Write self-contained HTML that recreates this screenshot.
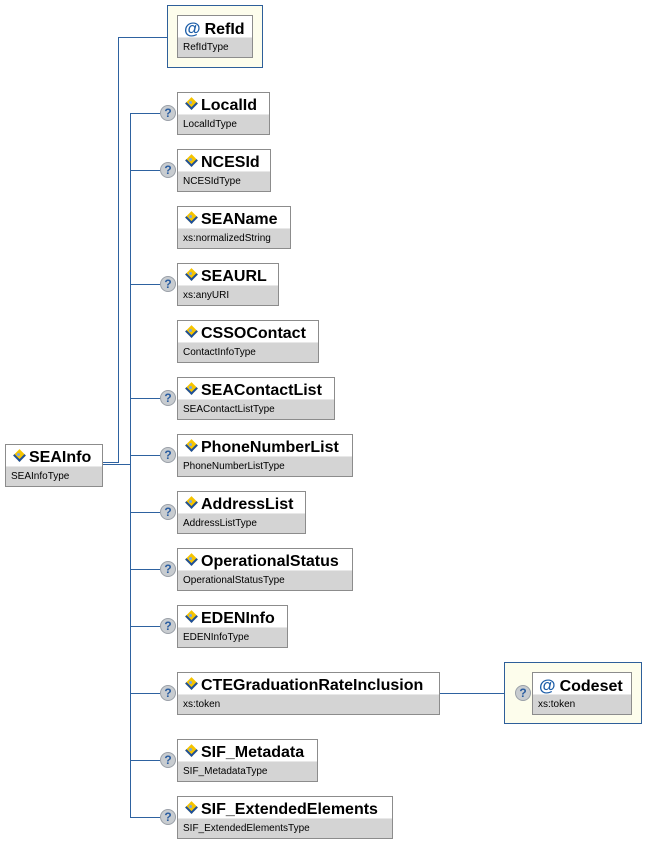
<!DOCTYPE html>
<html><head><meta charset="utf-8"><style>
body{margin:0;width:664px;height:843px;background:#fff;position:relative;overflow:hidden;font-family:"Liberation Sans",Arial,sans-serif}
.b{position:absolute;border:1px solid #8c8c8c;background:#fff;box-sizing:border-box;height:43px}
.b .n{height:22px;line-height:25px;font-weight:bold;font-size:16px;padding-left:6px;white-space:nowrap;color:#000}
.b .t{position:absolute;left:0;right:0;bottom:0;height:19px;background:#d4d4d4;border-top:1px solid #e8e8e8;font-size:10px;line-height:19px;padding-left:5px;white-space:nowrap}
.ic{display:inline-block;width:13px;height:9px;vertical-align:1px;margin-right:4px;position:relative}
.ic:before{content:"";position:absolute;left:3px;top:-1px;width:7px;height:7px;background:#f5c400;transform:rotate(45deg);border:1px solid #1d4f9a;border-width:0 2px 2px 0}
.ic:after{content:"";position:absolute;left:5px;top:1px;width:3px;height:3px;background:#7aa7e0;border-radius:50%}
.at{color:#1d5ea8;font-size:17px;margin-right:4px}
.q{position:absolute;width:16px;height:16px;border-radius:50%;background:#c8ccd0;border:1px solid #9aa0a8;box-sizing:border-box;color:#2a5da0;font-weight:bold;font-size:12px;line-height:14px;text-align:center}
.l{position:absolute;background:#2e62a0}
.o{position:absolute;border:1px solid #2e5f9a;background:#fdfdec;box-sizing:border-box}
</style></head><body>
<div class="l" style="left:118px;top:37px;width:1px;height:426px"></div>
<div class="l" style="left:118px;top:37px;width:49px;height:1px"></div>
<div class="l" style="left:102px;top:462px;width:16px;height:1px"></div>
<div class="l" style="left:102px;top:464px;width:28px;height:1px"></div>
<div class="l" style="left:130px;top:113px;width:1px;height:705px"></div>
<div class="l" style="left:130px;top:113px;width:30px;height:1px"></div>
<div class="l" style="left:130px;top:170px;width:30px;height:1px"></div>
<div class="l" style="left:130px;top:284px;width:30px;height:1px"></div>
<div class="l" style="left:130px;top:398px;width:30px;height:1px"></div>
<div class="l" style="left:130px;top:455px;width:30px;height:1px"></div>
<div class="l" style="left:130px;top:512px;width:30px;height:1px"></div>
<div class="l" style="left:130px;top:569px;width:30px;height:1px"></div>
<div class="l" style="left:130px;top:626px;width:30px;height:1px"></div>
<div class="l" style="left:130px;top:693px;width:30px;height:1px"></div>
<div class="l" style="left:130px;top:760px;width:30px;height:1px"></div>
<div class="l" style="left:130px;top:817px;width:30px;height:1px"></div>
<div class="l" style="left:439px;top:693px;width:65px;height:1px"></div>

<div class="o" style="left:167px;top:5px;width:96px;height:63px"></div>
<div class="b" style="left:177px;top:15px;width:76px"><div class="n"><span class="at">@</span>RefId</div><div class="t">RefIdType</div></div>

<div class="b" style="left:5px;top:444px;width:98px"><div class="n"><span class="ic"></span>SEAInfo</div><div class="t">SEAInfoType</div></div>

<div class="q" style="left:160px;top:105px">?</div>
<div class="b" style="left:177px;top:92px;width:93px"><div class="n"><span class="ic"></span>LocalId</div><div class="t">LocalIdType</div></div>
<div class="q" style="left:160px;top:162px">?</div>
<div class="b" style="left:177px;top:149px;width:94px"><div class="n"><span class="ic"></span>NCESId</div><div class="t">NCESIdType</div></div>
<div class="b" style="left:177px;top:206px;width:114px"><div class="n"><span class="ic"></span>SEAName</div><div class="t">xs:normalizedString</div></div>
<div class="q" style="left:160px;top:276px">?</div>
<div class="b" style="left:177px;top:263px;width:102px"><div class="n"><span class="ic"></span>SEAURL</div><div class="t">xs:anyURI</div></div>
<div class="b" style="left:177px;top:320px;width:142px"><div class="n"><span class="ic"></span>CSSOContact</div><div class="t">ContactInfoType</div></div>
<div class="q" style="left:160px;top:390px">?</div>
<div class="b" style="left:177px;top:377px;width:158px"><div class="n"><span class="ic"></span>SEAContactList</div><div class="t">SEAContactListType</div></div>
<div class="q" style="left:160px;top:447px">?</div>
<div class="b" style="left:177px;top:434px;width:176px"><div class="n"><span class="ic"></span>PhoneNumberList</div><div class="t">PhoneNumberListType</div></div>
<div class="q" style="left:160px;top:504px">?</div>
<div class="b" style="left:177px;top:491px;width:129px"><div class="n"><span class="ic"></span>AddressList</div><div class="t">AddressListType</div></div>
<div class="q" style="left:160px;top:561px">?</div>
<div class="b" style="left:177px;top:548px;width:176px"><div class="n"><span class="ic"></span>OperationalStatus</div><div class="t">OperationalStatusType</div></div>
<div class="q" style="left:160px;top:618px">?</div>
<div class="b" style="left:177px;top:605px;width:111px"><div class="n"><span class="ic"></span>EDENInfo</div><div class="t">EDENInfoType</div></div>
<div class="q" style="left:160px;top:685px">?</div>
<div class="b" style="left:177px;top:672px;width:263px"><div class="n"><span class="ic"></span>CTEGraduationRateInclusion</div><div class="t">xs:token</div></div>
<div class="q" style="left:160px;top:752px">?</div>
<div class="b" style="left:177px;top:739px;width:141px"><div class="n"><span class="ic"></span>SIF_Metadata</div><div class="t">SIF_MetadataType</div></div>
<div class="q" style="left:160px;top:809px">?</div>
<div class="b" style="left:177px;top:796px;width:216px"><div class="n"><span class="ic"></span>SIF_ExtendedElements</div><div class="t">SIF_ExtendedElementsType</div></div>

<div class="o" style="left:504px;top:662px;width:138px;height:62px"></div>
<div class="q" style="left:515px;top:685px">?</div>
<div class="b" style="left:532px;top:672px;width:100px"><div class="n"><span class="at">@</span>Codeset</div><div class="t">xs:token</div></div>
</body></html>
